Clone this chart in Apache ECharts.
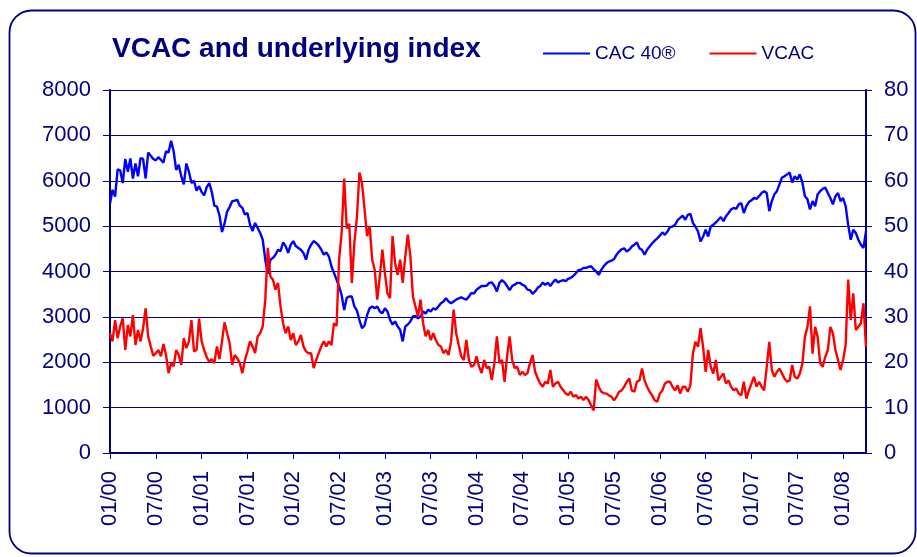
<!DOCTYPE html>
<html>
<head>
<meta charset="utf-8">
<title>VCAC and underlying index</title>
<script src="https://cdn.jsdelivr.net/npm/echarts@6/dist/echarts.min.js"></script>
<style>
  html, body { margin: 0; padding: 0; background: #fff; }
  #chart { width: 917px; height: 557px; }
</style>
</head>
<body>
<div id="chart"></div>
<script>
// x tick labels, one every six months starting at 01/00
const tickLabels = ['01/00', '07/00', '01/01', '07/01', '01/02', '07/02', '01/03', '07/03', '01/04',
  '07/04', '01/05', '07/05', '01/06', '07/06', '01/07', '07/07', '01/08'];

// CAC 40 level, sampled on the 1st, 11th and 21st of each month from Jan 2000
const cac40 = [
  5500, 5800, 5650, 6250, 6230, 5950, 6480, 6200, 6490, 6050,
  6380, 6100, 6500, 6480, 6050, 6620, 6550, 6480, 6450, 6520,
  6460, 6400, 6650, 6620, 6880, 6650, 6240, 6350, 6100, 5920,
  6380, 6200, 5950, 6000, 5780, 5880, 5750, 5680, 5860, 5950,
  5750, 5450, 5430, 5240, 4870, 5060, 5320, 5420, 5550, 5560,
  5580, 5450, 5400, 5255, 5290, 5035, 4890, 5070, 4960, 4850,
  4700, 4260, 3950, 4260, 4300, 4370, 4480, 4450, 4640, 4560,
  4410, 4590, 4670, 4560, 4520, 4480, 4410, 4260, 4480, 4590,
  4670, 4630, 4570, 4480, 4370, 4420, 4330, 4110, 3970, 3820,
  3670, 3480, 3150, 3420, 3450, 3450, 3230, 3140, 2930, 2750,
  2810, 3040, 3190, 3230, 3190, 3230, 3120, 3080, 3190, 3120,
  2940, 2830, 2900, 2790, 2710, 2460, 2790, 2830, 2900, 3010,
  3020, 2970, 3010, 3120, 3070, 3160, 3120, 3190, 3160, 3230,
  3300, 3340, 3410, 3340, 3300, 3340, 3380, 3410, 3430, 3400,
  3380, 3450, 3530, 3510, 3600, 3640, 3680, 3680, 3690, 3750,
  3760, 3680, 3560, 3750, 3810, 3760, 3680, 3590, 3680, 3710,
  3750, 3750, 3710, 3680, 3600, 3590, 3510, 3560, 3640, 3680,
  3750, 3710, 3750, 3680, 3760, 3820, 3760, 3790, 3810, 3790,
  3840, 3860, 3900, 3960, 4030, 4040, 4080, 4080, 4100, 4115,
  4050, 4000, 3925, 4035, 4120, 4180, 4220, 4240, 4270, 4370,
  4440, 4490, 4510, 4440, 4480, 4550, 4590, 4640, 4510, 4480,
  4370, 4480, 4550, 4620, 4680, 4730, 4790, 4860, 4810, 4880,
  4980, 4990, 5030, 5130, 5180, 5230, 5140, 5250, 5270, 5070,
  4990, 4880, 4660, 4770, 4920, 4770, 4990, 5030, 5080, 5140,
  5200, 5110, 5220, 5290, 5370, 5400, 5380, 5480, 5510, 5290,
  5440, 5530, 5570, 5620, 5600, 5660, 5730, 5770, 5730, 5330,
  5550, 5700, 5770, 5920, 6070, 6100, 6140, 6180, 5960, 6100,
  6030, 6140, 5960, 5660, 5590, 5370, 5550, 5440, 5700, 5770,
  5820, 5850, 5730, 5620, 5480, 5660, 5730, 5550, 5620, 5440,
  5030, 4700, 4920, 4850, 4700, 4590, 4520, 4890
];

// VCAC volatility index, same sampling dates
const vcac = [
  26.4, 24.6, 29.3, 25.3, 27.9, 29.7, 22.7, 28.2, 25.7, 30.4,
  23.8, 27.1, 24.6, 27.5, 31.9, 25.7, 23.5, 21.4, 22.0, 22.7,
  21.3, 24.0, 21.6, 17.6, 19.8, 19.1, 22.7, 21.6, 19.4, 25.3,
  23.1, 24.6, 29.3, 22.4, 22.7, 29.6, 24.6, 22.7, 21.1, 20.1,
  20.7, 19.8, 23.5, 20.7, 24.6, 28.8, 26.4, 24.2, 19.4, 21.6,
  20.9, 19.8, 17.6, 20.5, 22.4, 24.6, 23.5, 22.0, 25.7, 26.4,
  27.9, 33.8, 45.2, 38.9, 38.2, 36.0, 37.5, 32.3, 28.6, 26.4,
  27.9, 24.9, 26.4, 23.8, 24.6, 26.0, 23.5, 22.4, 22.0, 22.0,
  18.7, 20.5, 22.0, 23.5, 24.6, 23.5, 24.6, 23.8, 28.6, 28.0,
  42.6, 48.5, 60.5, 49.5, 50.5, 37.5, 46.3, 52.0, 61.8, 59.5,
  53.7, 47.8, 50.0, 42.6, 40.4, 33.8, 38.9, 44.8, 39.6, 35.2,
  34.1, 47.8, 41.9, 39.3, 42.6, 37.5, 43.4, 48.1, 43.4, 34.5,
  32.3, 30.1, 33.8, 28.6, 25.7, 27.1, 24.9, 26.4, 24.9, 23.8,
  23.5, 22.0, 22.7, 21.6, 24.6, 31.6, 26.4, 23.8, 21.3, 20.5,
  24.9, 20.5, 19.0, 19.4, 21.3, 19.0, 17.6, 20.5, 18.7, 19.0,
  16.1, 19.8, 25.7, 19.8, 20.5, 15.7, 21.3, 25.7, 20.5, 18.7,
  19.0, 17.2, 17.9, 17.2, 17.6, 19.8, 21.6, 17.9, 16.5, 15.3,
  14.6, 15.7, 15.3, 18.3, 14.6, 15.3, 15.7, 14.6, 13.9, 13.1,
  12.8, 13.5, 12.4, 12.8, 12.0, 12.4, 11.7, 12.4, 11.7, 10.5,
  9.4, 16.2, 14.6, 13.5, 13.2, 13.1, 12.7, 12.4, 11.6, 12.4,
  13.5, 13.8, 14.6, 15.7, 16.4, 13.8, 13.5, 15.7, 16.0, 18.6,
  16.0, 14.6, 13.5, 12.7, 11.6, 11.3, 13.1, 13.8, 15.3, 15.7,
  15.7, 14.6, 13.8, 14.9, 13.1, 14.6, 14.6, 13.5, 14.9, 21.9,
  24.5, 23.4, 27.5, 23.4, 17.9, 22.7, 19.0, 17.5, 20.5, 16.0,
  16.8, 17.5, 15.3, 16.0, 14.6, 13.8, 14.2, 13.1, 12.7, 15.7,
  12.0, 13.8, 15.3, 16.8, 14.6, 15.7, 14.6, 13.8, 19.0, 24.5,
  18.3, 16.8, 17.9, 18.6, 17.5, 16.4, 15.7, 16.0, 19.4, 16.8,
  16.4, 17.5, 19.7, 25.6, 27.8, 32.3, 21.9, 27.8, 25.6, 19.7,
  19.0, 21.2, 22.7, 27.8, 26.4, 22.7, 20.5, 18.3, 20.5, 23.8,
  38.2, 29.3, 35.2, 27.1, 27.8, 28.6, 33.0, 23.4
];

// sampling dates (1st, 11th, 21st of each month)
const dates = [];
for (let i = 0; i < cac40.length; i++) {
  const y = 2000 + Math.floor(i / 36);
  const m = Math.floor(i / 3) % 12 + 1;
  const d = 1 + (i % 3) * 10;
  dates.push(y + '-' + String(m).padStart(2, '0') + '-' + String(d).padStart(2, '0'));
}

// months since Jan 2000, used as the x value
function monthOf(s) {
  const p = s.split('-').map(Number);
  return (p[0] - 2000) * 12 + (p[1] - 1) + (p[2] - 1) / 30;
}

const navy = '#000080';
const font = 'Arial, "Liberation Sans", sans-serif';
const tickMonths = tickLabels.map((_, k) => k * 6);

const chart = echarts.init(document.getElementById('chart'), null, { renderer: 'canvas' });

const option = {
  animation: false,
  backgroundColor: '#fff',
  textStyle: { fontFamily: font },
  graphic: [{
    type: 'rect',
    shape: { x: 9.5, y: 10.5, width: 906, height: 543, r: 22 },
    style: { fill: 'none', stroke: navy, lineWidth: 1.8 },
    silent: true
  }],
  title: {
    text: 'VCAC and underlying index',
    left: 112,
    top: 35,
    padding: 0,
    textStyle: { color: navy, fontSize: 28, fontWeight: 'bold', fontFamily: font }
  },
  legend: {
    left: 543,
    top: 44,
    padding: 0,
    icon: 'rect',
    itemWidth: 47,
    itemHeight: 2,
    itemGap: 34,
    textStyle: { color: navy, fontSize: 19, fontFamily: font },
    data: ['CAC 40®', 'VCAC']
  },
  grid: { left: 110, right: 51, top: 90, bottom: 104 },
  xAxis: {
    type: 'value',
    min: 0,
    max: 99,
    splitLine: { show: false },
    axisLine: { lineStyle: { color: navy, width: 2 } },
    axisTick: { customValues: tickMonths, length: 6, lineStyle: { color: navy, width: 1 } },
    axisLabel: {
      customValues: tickMonths,
      rotate: 90,
      margin: 18,
      color: navy,
      fontSize: 22,
      formatter: v => tickLabels[Math.round(v / 6)] || ''
    }
  },
  yAxis: [{
    type: 'value',
    min: 0,
    max: 8000,
    interval: 1000,
    axisLine: { show: true, lineStyle: { color: navy, width: 2 } },
    axisTick: { show: true, length: 7, lineStyle: { color: navy } },
    axisLabel: { color: navy, fontSize: 22, margin: 19, formatter: v => String(v) },
    splitLine: { lineStyle: { color: navy, width: 1 } }
  }, {
    type: 'value',
    min: 0,
    max: 80,
    interval: 10,
    position: 'right',
    axisLine: { show: true, lineStyle: { color: navy, width: 2 } },
    axisTick: { show: true, length: 6, lineStyle: { color: navy } },
    axisLabel: { color: navy, fontSize: 22, margin: 18, formatter: v => String(v) },
    splitLine: { show: false }
  }],
  series: [{
    name: 'CAC 40®',
    type: 'line',
    yAxisIndex: 0,
    symbol: 'none',
    lineStyle: { color: '#0000ff', width: 2.4 },
    itemStyle: { color: '#0000ff' },
    data: dates.map((d, i) => [monthOf(d), cac40[i]])
  }, {
    name: 'VCAC',
    type: 'line',
    yAxisIndex: 1,
    symbol: 'none',
    lineStyle: { color: '#ff0000', width: 2.4 },
    itemStyle: { color: '#ff0000' },
    data: dates.map((d, i) => [monthOf(d), vcac[i]])
  }]
};

chart.setOption(option);
window.addEventListener('resize', function () {
  chart.resize();
});
</script>
</body>
</html>
